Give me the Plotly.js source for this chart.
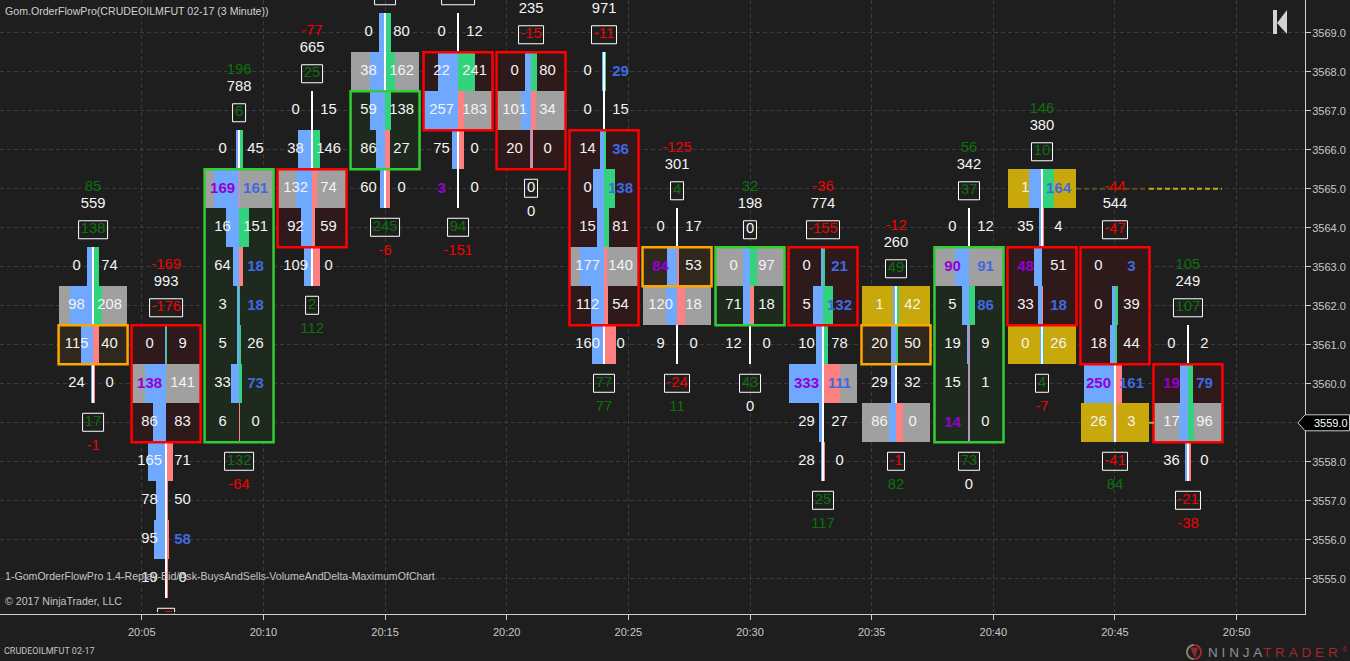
<!DOCTYPE html>
<html>
<head>
<meta charset="utf-8">
<script src="https://cdn.plot.ly/plotly-3.0.1.min.js"></script>
<style>html,body{margin:0;padding:0;background:#1e1e1e;overflow:hidden}</style>
</head>
<body>
<div id="chart" style="width:1350px;height:661px"></div>
<script>
// ---------- data ----------
const barMinute = [3,6,9,12,15,18,21,24,27,30,33,36,39,42,45,48];
const topRowPrice = [3563,3561,3566,3567,3569,3569,3568,3568,3564,3563,3563,3562,3564,3565,3563,3561];
const bidVolume = [
  [0,98,115,24],[0,138,86,165,78,95,19],[0,169,16,64,3,5,33,6],[0,38,132,92,109],
  [0,38,59,86,60],[0,22,257,75,3],[0,101,20],[0,0,14,0,15,177,112,160],
  [0,84,120,9],[0,71,12],[0,5,10,333,29,28],[1,20,29,86],
  [0,90,5,19,15,14],[1,35,48,33,0],[0,0,18,250,26],[0,19,17,36]];
const askVolume = [
  [74,208,40,0],[9,141,83,71,50,58,0],[45,161,151,18,18,26,73,0],[15,146,74,59,0],
  [80,162,138,27,0],[12,241,183,0,0],[80,34,0],[29,15,36,138,81,140,54,0],
  [17,53,18,0],[97,18,0],[21,132,78,111,27,0],[42,50,32,0],
  [12,91,86,9,1,0],[164,4,51,18,26],[3,39,44,161,3],[2,79,96,0]];
const bodyHigh = [3561,3561,3565,3565,3567,3568,3568,3566,3563,3563,3563,3561,3563,3563,3563,3560];
const bodyLow  = [3561,3559,3559,3564,3566,3567,3566,3562,3563,3562,3562,3561,3559,3562,3561,3559];
const bodyKind = ['doji','down','up','down','up','down','down','down','doji','up','down','doji','up','down','down','down'];
const grayRows = [[3562],[3560],[3565],[3565],[3568],[3567],[3567],[3563],[3562],[3563],[3560],[3559],[3563],[],[],[3559]];
const goldRows = [[],[],[],[],[],[],[],[],[],[],[],[3562],[],[3565,3561],[3559],[]];
const wickGapRows = [[],[],[],[],[],[],[],[],[3562],[],[],[3559],[],[],[],[]];
const boldBidRows = [[],[3560],[3565],[],[],[3565],[],[],[3563],[],[3560],[],[3563,3559],[3563],[3560],[3560]];
const boldAskRows = [[],[3556],[3565,3563,3562,3560],[],[],[],[],[3568,3566,3565],[],[],[3563,3562,3560],[],[3563,3562],[3565,3562],[3563,3560],[3560]];
const topDelta  = [85,-169,196,-77,null,null,null,null,-125,32,-36,-12,56,146,-44,105];
const barVolume = [559,993,788,665,null,null,235,971,301,198,774,260,342,380,544,249];
const topBox    = [138,-176,6,25,45,-157,-15,-11,4,0,-155,49,37,10,-47,107];
const bottomBox = [17,-7,132,2,245,94,0,77,-24,43,25,-1,73,4,-41,-21];
const bottomDelta = [-1,null,-64,112,-6,-151,0,77,11,0,117,82,0,-7,84,-38];
const xTickMinutes = [5,10,15,20,25,30,35,40,45,50];
const xTickLabels = ['20:05','20:10','20:15','20:20','20:25','20:30','20:35','20:40','20:45','20:50'];
const yTickPrices = [3555,3556,3557,3558,3559,3560,3561,3562,3563,3564,3565,3566,3567,3568,3569];
const yTickLabels = ['3555.0','3556.0','3557.0','3558.0','','3560.0','3561.0','3562.0','3563.0','3564.0','3565.0','3566.0','3567.0','3568.0','3569.0'];
const lastPrice = 3559;
const unfinishedLevel = 3565;
const unfinishedLevel2 = 3559;

// ---------- styling ----------
const W=1350,H=661,PW=1305,PH=614;
const xMin=-0.826,xMax=52.81,yMin=3554.097,yMax=3569.84;
const pxPerMin=PW/(xMax-xMin);
const BG='#1e1e1e',C_BLUE='#6fa8ff',C_GREEN='#33d27c',C_SALMON='#ff8080',C_GRAY='#a0a0a0',C_GOLD='#c8a80a';
const TXT_GREEN='#0b720b',TXT_RED='#f40000',TXT_WHITE='#f4f4f4',TXT_PURPLE='#9400d3',TXT_BLUE='#4169e1';
const bodyLine={up:'#32cd32',down:'#ff0000',doji:'#ffa500'};
const bodyFill={up:'#1f2a1f',down:'#2e191b',doji:'#30281d'};
const halfCell=34/pxPerMin;
const barScale=34/444/pxPerMin;
const textOffset=16.5/pxPerMin;
const FONT='"Liberation Sans", Arial, sans-serif';

function hbar(color,opts){
  return Object.assign({type:'bar',orientation:'h',y:[],x:[],base:[],width:[],
    marker:{color:color,line:{width:0}},hoverinfo:'skip',showlegend:false},opts||{});
}
function push(t,price,h,left,w){t.y.push(price);t.base.push(left);t.x.push(w);t.width.push(h);}

const tint=hbar([]),grayT=hbar(C_GRAY),goldT=hbar(C_GOLD),volT=hbar(C_BLUE),deltaT=hbar([]),wickT=hbar('#ffffff');
const outline=hbar('rgba(0,0,0,0)');outline.marker.line={width:2.5,color:[]};
const boxes=hbar('rgba(0,0,0,0)');boxes.marker.line={width:1,color:'#ffffff'};
const textN={x:[],y:[],text:[],color:[]},textB={x:[],y:[],text:[],color:[]};
function label(t,x,y,s,c){t.x.push(x);t.y.push(y);t.text.push(String(s));t.color.push(c);}
function signColor(v){return v>0?TXT_GREEN:(v<0?TXT_RED:TXT_WHITE);}
function boxed(x,y,v){
  const s=String(v),digits=s.replace('-','').length;
  const wpx=5+8*digits+(v<0?4:0);
  push(boxes,y,18/39,x-wpx/2/pxPerMin,wpx/pxPerMin);
  if(y<yMax) label(textN,x,y,v,signColor(v));
}

barMinute.forEach((m,i)=>{
  const bids=bidVolume[i],asks=askVolume[i],top=topRowPrice[i];
  const hi=bodyHigh[i],lo=bodyLow[i],kind=bodyKind[i];
  tint.marker.color.push(bodyFill[kind]);
  push(tint,(hi+lo)/2,hi-lo+1,m-halfCell,2*halfCell);
  outline.marker.line.color.push(bodyLine[kind]);
  push(outline,(hi+lo)/2,hi-lo+1,m-halfCell-0.5/pxPerMin,2*halfCell+1/pxPerMin);
  bids.forEach((b,j)=>{
    const a=asks[j],p=top-j;
    if(grayRows[i].includes(p)) push(grayT,p,1,m-halfCell,2*halfCell);
    if(goldRows[i].includes(p)) push(goldT,p,1,m-halfCell,2*halfCell);
    const vw=(a+b)*barScale,dw=Math.abs(a-b)*barScale;
    push(volT,p,1,m-vw,vw);
    deltaT.marker.color.push(a>=b?C_GREEN:C_SALMON);
    push(deltaT,p,1,m,dw);
    if((p>hi||p<lo)&&!wickGapRows[i].includes(p)) push(wickT,p,1,m-1/pxPerMin,2/pxPerMin);
    const bBold=boldBidRows[i].includes(p),aBold=boldAskRows[i].includes(p);
    label(bBold?textB:textN,m-textOffset,p,b,bBold?TXT_PURPLE:TXT_WHITE);
    label(aBold?textB:textN,m+textOffset,p,a,aBold?TXT_BLUE:TXT_WHITE);
  });
  const bottom=top-bids.length+1;
  boxed(m,top+37/39,topBox[i]);
  if(barVolume[i]!==null) label(textN,m,top+62.5/39,barVolume[i],TXT_WHITE);
  if(topDelta[i]!==null) label(textN,m,top+79/39,topDelta[i],signColor(topDelta[i]));
  boxed(m,bottom-38.5/39,bottomBox[i]);
  if(bottomDelta[i]!==null) label(textN,m,bottom-63/39,bottomDelta[i],signColor(bottomDelta[i]));
});

function dashLine(x0,x1,y,color){
  return {type:'scatter',mode:'lines',x:[x0,x1],y:[y,y],line:{color:color,width:2,dash:'5px,3px'},hoverinfo:'skip',showlegend:false};
}
function textTrace(t,weight,size){
  return {type:'scatter',mode:'text',x:t.x,y:t.y,text:t.text,textposition:'middle center',
    textfont:{family:FONT,size:size,color:t.color,weight:weight},hoverinfo:'skip',showlegend:false,cliponaxis:true};
}
const traces=[tint,grayT,goldT,volT,deltaT,wickT,outline,boxes,
  dashLine(barMinute[13]+halfCell,barMinute[14]+halfCell,unfinishedLevel,'#5c4f1e'),
  dashLine(barMinute[14]+halfCell,barMinute[15]+halfCell,unfinishedLevel,C_GOLD),
  dashLine(barMinute[14]+halfCell,barMinute[15]-halfCell,unfinishedLevel2,C_GOLD),
  textTrace(textN,'normal',14.8),textTrace(textB,'bold',15)];

// ---------- pixel helpers for the furniture around the plot ----------
const px=x=>x/PW, py=y=>1-y/PH;
function note(x,y,text,size,color,family){
  return {xref:'paper',yref:'paper',x:px(x-2),y:py(y),text:text,showarrow:false,
    xanchor:'left',yanchor:'middle',font:{family:family||FONT,size:size,color:color}};
}
function path(pts){return 'M '+pts.map(p=>px(p[0])+','+py(p[1])).join(' L ')+' Z';}
const yLast=461.8-(lastPrice-3558)*39;
const circlePts=(cx,cy,r,a0,a1)=>{const o=[];for(let k=0;k<=24;k++){const a=a0+(a1-a0)*k/24;o.push([cx+r*Math.cos(a),cy+r*Math.sin(a)]);}return o;};
function openPath(pts){return 'M '+pts.map(p=>px(p[0])+','+py(p[1])).join(' L ');}

const layout={
  width:W,height:H,autosize:false,
  paper_bgcolor:BG,plot_bgcolor:BG,
  margin:{l:0,r:W-PW,t:0,b:H-PH,pad:0},
  barmode:'overlay',bargap:0,showlegend:false,
  font:{family:FONT,color:'#cccccc',size:11},
  xaxis:{type:'linear',range:[xMin,xMax],tickmode:'array',tickvals:xTickMinutes,ticktext:xTickLabels,
    showgrid:true,gridcolor:'#3b3b3b',gridwidth:1,griddash:'4px,3px',zeroline:false,showline:true,linecolor:'#cfcfcf',linewidth:1,
    ticks:'outside',ticklen:5,tickcolor:'#cfcfcf',tickwidth:1,ticklabelstandoff:3,tickfont:{family:FONT,size:11,color:'#c8c8c8'},fixedrange:true},
  yaxis:{type:'linear',side:'right',range:[yMin,yMax],tickmode:'array',tickvals:yTickPrices,ticktext:yTickLabels,
    showgrid:true,gridcolor:'#3b3b3b',gridwidth:1,griddash:'4px,3px',zeroline:false,showline:true,linecolor:'#cfcfcf',linewidth:1,
    ticks:'outside',ticklen:5,tickcolor:'#cfcfcf',tickwidth:1,ticklabelstandoff:-1,tickfont:{family:FONT,size:11,color:'#c8c8c8'},fixedrange:true},
  shapes:[
    {type:'rect',xref:'paper',yref:'paper',x0:px(0),x1:px(1304),y0:py(612),y1:py(613.4),fillcolor:BG,line:{width:0}},
    {type:'rect',xref:'paper',yref:'paper',x0:px(1273),x1:px(1277),y0:py(10),y1:py(34),fillcolor:'#d2d2d2',line:{width:0}},
    {type:'path',xref:'paper',yref:'paper',path:path([[1287,10],[1287,34],[1277,23]]),fillcolor:'#d2d2d2',line:{width:0}},
    {type:'path',xref:'paper',yref:'paper',path:path([[1298,yLast],[1305,yLast-8],[1349.5,yLast-8],[1349.5,yLast+8],[1305,yLast+8]]),
      fillcolor:'#000000',line:{color:'#c8c8c8',width:1}},
    {type:'path',xref:'paper',yref:'paper',path:openPath(circlePts(1194,652,7,1.6,4.7)),fillcolor:'rgba(0,0,0,0)',line:{color:'#8a7f78',width:2}},
    {type:'path',xref:'paper',yref:'paper',path:openPath(circlePts(1194,652,7,-1.5,1.5)),fillcolor:'rgba(0,0,0,0)',line:{color:'#a5262c',width:2}},
    {type:'path',xref:'paper',yref:'paper',path:path([[1190,647],[1198,648],[1195,658]]),fillcolor:'#8c2a2c',line:{width:0}}
  ],
  annotations:[
    note(5,11,'Gom.OrderFlowPro(CRUDEOILMFUT 02-17 (3 Minute))',10.6,'#d0d0d0'),
    note(5,576,'1-GomOrderFlowPro 1.4-Replay-Bid/Ask-BuysAndSells-VolumeAndDelta-MaximumOfChart',10.6,'#c4c4c4'),
    note(5,601,'© 2017 NinjaTrader, LLC',10.6,'#c4c4c4'),
    note(4,651,'CRUDEOILMFUT 02-17',9,'#c4c4c4','Roboto, "Liberation Sans", Arial'),
    note(1314,yLast,'3559.0',11,'#ffffff'),
    note(1208,652,'N\u2009\u200AI\u2009\u200AN\u2009\u200AJ\u2009\u200AA',13.5,'#8f8f8f'),
    note(1263,652,'T\u2009\u200AR\u2009\u200AA\u2009\u200AD\u2009\u200AE\u2009\u200AR',13.5,'#a5262c'),
    note(1342,649,'®',7,'#a5262c')
  ]
};
Plotly.newPlot('chart',traces,layout,{displayModeBar:false,staticPlot:true});
</script>
</body>
</html>
